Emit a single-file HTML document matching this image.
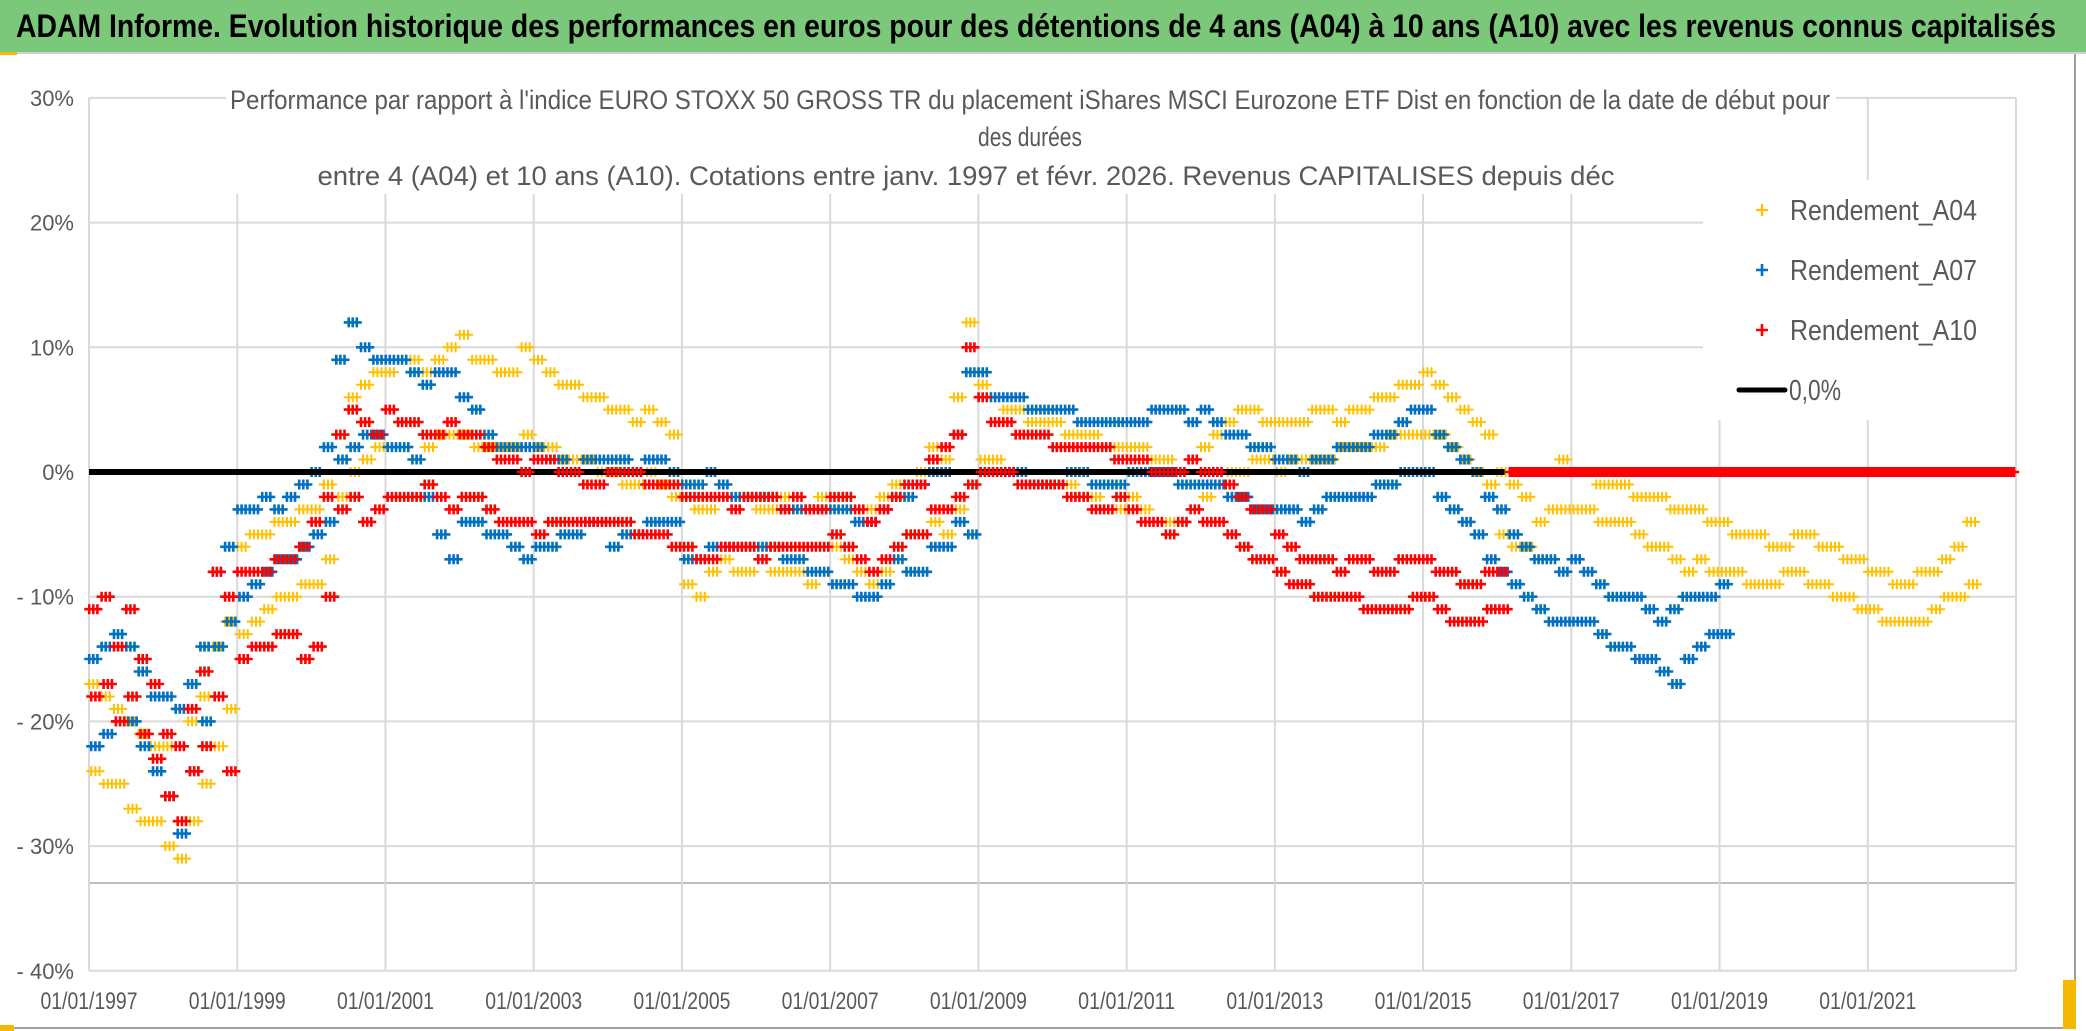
<!DOCTYPE html>
<html><head><meta charset="utf-8"><style>
html,body{margin:0;padding:0;background:#fff;}
svg{display:block;}
text{font-family:"Liberation Sans Narrow","Liberation Sans",sans-serif;}
</style></head><body>
<svg id="chart" width="2086" height="1031" viewBox="0 0 2086 1031" xmlns="http://www.w3.org/2000/svg">
<rect x="0" y="0" width="2086" height="1031" fill="#fff"/>
<rect x="0" y="0" width="2086" height="52" fill="#7cc87b"/>
<line x1="0" y1="53" x2="2086" y2="53" stroke="#d0d0d0" stroke-width="2"/>
<text x="16" y="37" font-size="32" font-weight="bold" fill="#000" textLength="2040" lengthAdjust="spacingAndGlyphs">ADAM Informe. Evolution historique des performances en euros pour des détentions de 4 ans (A04) à 10 ans (A10) avec les revenus connus capitalisés</text>
<rect x="2074" y="54" width="2" height="975" fill="#a0a0a0"/>
<rect x="0" y="1027" width="2076" height="2" fill="#a0a0a0"/>
<rect x="2063" y="980" width="13" height="49" fill="#f5b800"/>
<rect x="0" y="1025" width="14" height="6" fill="#f5b800"/>
<rect x="0" y="52" width="17" height="3" fill="#f5b800"/>
<g id="grid"></g>
<g id="axes"></g>
<rect x="226" y="82" width="1610" height="112" fill="#fff"/>
<text x="1030" y="109" font-size="27" fill="#595959" text-anchor="middle" textLength="1600" lengthAdjust="spacingAndGlyphs">Performance par rapport à l'indice EURO STOXX 50 GROSS TR  du placement iShares MSCI Eurozone ETF Dist en fonction de la date de début pour</text>
<text x="1030" y="146" font-size="27" fill="#595959" text-anchor="middle" textLength="104" lengthAdjust="spacingAndGlyphs">des durées</text>
<text x="966" y="185" font-size="27" fill="#595959" text-anchor="middle" textLength="1297" lengthAdjust="spacingAndGlyphs">entre 4 (A04) et 10 ans (A10). Cotations entre janv. 1997 et févr. 2026. Revenus CAPITALISES depuis déc</text>
<g id="marks"></g>
<rect x="1703" y="180" width="312" height="240" fill="#fff"/>
<g id="legend">
<g><path d="M1756 210h12M1762 204v12" stroke="#FFC000" stroke-width="2.2"/><text x="1790" y="220" font-size="29" fill="#595959" textLength="187" lengthAdjust="spacingAndGlyphs">Rendement_A04</text></g>
<g><path d="M1756 270h12M1762 264v12" stroke="#0070C0" stroke-width="2.6"/><text x="1790" y="280" font-size="29" fill="#595959" textLength="187" lengthAdjust="spacingAndGlyphs">Rendement_A07</text></g>
<g><path d="M1756 330h12M1762 324v12" stroke="#FF0000" stroke-width="2.6"/><text x="1790" y="340" font-size="29" fill="#595959" textLength="187" lengthAdjust="spacingAndGlyphs">Rendement_A10</text></g>
<g><line x1="1739" y1="390" x2="1785" y2="390" stroke="#000" stroke-width="5" stroke-linecap="round"/><text x="1789" y="400" font-size="29" fill="#595959" textLength="52" lengthAdjust="spacingAndGlyphs">0,0%</text></g>
</g>
</svg>
<script>
const yTicks=[30,20,10,0,-10,-20,-30,-40];
const yTickLabels=["30%","20%","10%","0%","- 10%","- 20%","- 30%","- 40%"];
const xTickYears=[1997,1999,2001,2003,2005,2007,2009,2011,2013,2015,2017,2019,2021,2023];
const xTickLabels=["01/01/1997","01/01/1999","01/01/2001","01/01/2003","01/01/2005","01/01/2007","01/01/2009","01/01/2011","01/01/2013","01/01/2015","01/01/2017","01/01/2019","01/01/2021",""];
const startYear=1997;
const binsPerYear=6;
const a04Hi=[-17,-18,-19,-20,-21,-22,-22,-22,-20,-18,-14,-12,-6,-5,-5,-4,-4,-3,-3,-1,3,6,7,8,8,9,9,8,9,10,11,9,9,8,8,10,9,8,7,7,6,6,5,5,4,5,4,3,-2,-3,-3,-2,-3,-2,-3,-3,-2,-3,-3,-2,-2,-2,-3,-3,-2,-1,-1,0,2,1,6,12,7,6,5,5,4,4,4,3,3,3,2,2,2,2,1,1,0,1,2,3,4,5,5,4,4,4,4,5,5,4,5,5,6,6,7,7,8,7,6,5,4,3,0,-1,-2,0,0,1,0,0,-1,-1,-1,-2,-2,-2,-3,-3,-3,-4,-4,-5,-5,-5,-6,-6,-5,-5,-6,-6,-7,-7,-8,-8,-9,-9,-8,-8,-7,-6,-4];
const a04Lo=[-24,-25,-25,-27,-28,-28,-30,-31,-28,-25,-22,-19,-13,-12,-11,-10,-10,-9,-9,-7,-2,0,1,2,2,2,1,2,3,3,3,2,2,2,2,3,2,2,1,1,1,0,0,-1,-1,0,-1,-2,-9,-10,-8,-7,-8,-8,-7,-8,-8,-8,-9,-8,-6,-7,-8,-9,-8,-6,-5,-5,-4,-5,-3,-1,1,1,0,0,-1,-1,-1,-1,-2,-2,-3,-3,-2,-3,-4,-4,-4,-3,-2,-1,0,0,1,1,0,1,1,1,1,2,2,2,2,3,3,3,3,3,2,1,0,-1,-5,-6,-6,-4,-3,-3,-3,-3,-4,-4,-4,-5,-6,-6,-7,-8,-7,-8,-8,-8,-9,-9,-9,-8,-8,-9,-9,-10,-10,-11,-11,-12,-12,-12,-12,-11,-10,-10,-9];
const a07Hi=[-15,-14,-13,-14,-16,-18,-18,-19,-17,-14,-8,-6,-3,-3,-2,-3,-2,-1,0,2,9,12,10,9,9,9,8,7,8,8,6,5,3,2,2,2,2,1,1,0,1,1,1,1,0,1,1,0,-1,-1,0,-1,-2,-2,-2,-2,-3,-3,-3,-3,-3,-3,-4,-4,-3,-2,-2,-1,0,0,3,8,8,6,6,6,5,5,5,5,4,4,4,4,4,4,5,5,5,4,5,4,3,3,2,2,1,1,0,1,1,2,2,2,3,3,4,5,5,3,2,1,0,-2,-3,-5,-6,-7,-7,-8,-7,-8,-9,-10,-10,-10,-11,-12,-11,-10,-10,-10,-9];
const a07Lo=[-22,-21,-20,-20,-22,-24,-26,-29,-24,-20,-14,-12,-10,-9,-8,-7,-7,-6,-5,-4,1,2,3,3,2,2,1,-2,-5,-7,-4,-4,-5,-5,-6,-7,-6,-6,-5,-5,-4,-4,-6,-5,-5,-4,-4,-4,-7,-7,-6,-6,-6,-6,-6,-6,-7,-7,-8,-8,-9,-9,-10,-10,-9,-7,-8,-8,-6,-6,-4,-5,0,0,0,0,-1,-1,-1,0,0,-1,-1,-1,0,0,0,0,-1,-1,-1,-1,-2,-2,-3,-3,-3,-3,-4,-3,-2,-2,-2,-2,-1,-1,0,0,0,-2,-3,-4,-5,-7,-8,-9,-10,-11,-12,-12,-12,-12,-13,-14,-14,-15,-15,-16,-17,-15,-14,-13,-13];
const a10Hi=[-11,-10,-14,-11,-15,-17,-21,-22,-19,-16,-8,-10,-8,-8,-8,-7,-7,-6,-4,-2,3,5,4,3,5,4,4,3,3,4,3,3,2,1,1,0,1,1,0,0,-1,-1,0,0,0,-1,-1,-1,-2,-2,-2,-2,-3,-2,-2,-2,-3,-2,-3,-3,-2,-2,-3,-4,-3,-2,-1,-1,1,2,3,10,6,4,4,3,3,3,2,2,2,2,2,1,1,1,0,0,0,1,0,0,-1,-2,-3,-3,-5,-6,-7,-7,-7,-8,-7,-7,-8,-8,-7,-7,-7,-8,-8,-9,-9,-8,-8,0,0,0,0,0,0,0,0,0,0,0,0,0,0,0,0,0,0,0,0,0,0,0,0,0,0,0,0,0,0,0,0,0,0,0,0,0,0,0,0,0];
const a10Lo=[-18,-17,-20,-18,-21,-23,-26,-28,-24,-22,-18,-24,-15,-14,-14,-13,-13,-15,-14,-10,-3,-2,-4,-3,-2,-2,-2,-1,-2,-3,-2,-2,-3,-4,-4,-4,-5,-4,-4,-4,-4,-4,-4,-4,-5,-5,-5,-6,-6,-7,-7,-6,-6,-6,-7,-6,-6,-6,-6,-6,-5,-6,-7,-8,-7,-6,-5,-5,-3,-3,-2,-1,0,0,0,-1,-1,-1,-1,-2,-2,-3,-3,-2,-3,-4,-4,-5,-4,-3,-4,-4,-5,-6,-7,-7,-8,-9,-9,-10,-10,-10,-10,-11,-11,-11,-11,-10,-10,-11,-12,-12,-12,-11,-11,0,0,0,0,0,0,0,0,0,0,0,0,0,0,0,0,0,0,0,0,0,0,0,0,0,0,0,0,0,0,0,0,0,0,0,0,0,0,0,0,0];
const zeroLineStart=1997.0;
const zeroLineEnd=2016.1;

const NS="http://www.w3.org/2000/svg";
const X0=89,X1=2016,PX_PER_YEAR=(X1-X0)/26;
function xScale(t){return X0+(t-startYear)*PX_PER_YEAR;}
function yScale(v){return 472-v*12.47;}
function mk(tag,attrs,parent){const e=document.createElementNS(NS,tag);for(const k in attrs)e.setAttribute(k,attrs[k]);parent.appendChild(e);return e;}

const grid=document.getElementById('grid');
const axes=document.getElementById('axes');
yTicks.forEach((v,i)=>{
  const l=mk('line',{x1:X0,x2:X1,y1:yScale(v),y2:yScale(v),stroke:'#d9d9d9','stroke-width':2},grid);
  
  
  const t=mk('text',{x:74,y:yScale(v)+8,'font-size':22,fill:'#595959','text-anchor':'end'},axes);
  t.textContent=yTickLabels[i];
  
  
});
const extra=mk('line',{x1:X0,x2:X1,y1:883,y2:883,stroke:'#bfbfbf','stroke-width':2},grid);


xTickYears.forEach((yr,i)=>{
  const x=xScale(yr);
  const l=mk('line',{x1:x,x2:x,y1:yScale(30),y2:yScale(-40),stroke:'#d9d9d9','stroke-width':2},grid);
  
  
  if(xTickLabels[i]){
    const t=mk('text',{x:x,y:1009,'font-size':24,fill:'#595959','text-anchor':'middle',textLength:97,lengthAdjust:'spacingAndGlyphs'},axes);
    t.textContent=xTickLabels[i];
    
    
  }
});

const marks=document.getElementById('marks');
const subOffsets=[0.02,0.18,0.35,0.52,0.68,0.85];
function drawSeries(hi,lo,color,name,sw){
  let d='';
  for(let i=0;i<hi.length;i++){
    const t0=startYear+i/binsPerYear;
    subOffsets.forEach((o,k)=>{
      const v=(k%2===0)?hi[i]:lo[i];
      const x=xScale(t0+o/binsPerYear), y=yScale(v);
      d+='M'+(x-5).toFixed(1)+' '+y.toFixed(1)+'h10M'+x.toFixed(1)+' '+(y-5).toFixed(1)+'v10';
    });
  }
  const p=mk('path',{d:d,stroke:color,'stroke-width':sw,fill:'none'},marks);
  
  
}
drawSeries(a04Hi,a04Lo,'#FFC000','series-rendement-a04',2);
drawSeries(a07Hi,a07Lo,'#0070C0','series-rendement-a07',2.6);
const zl=mk('line',{x1:xScale(zeroLineStart),x2:xScale(zeroLineEnd),y1:yScale(0),y2:yScale(0),stroke:'#000','stroke-width':6},marks);


drawSeries(a10Hi,a10Lo,'#FF0000','series-rendement-a10',2.6);
</script>
</body></html>
